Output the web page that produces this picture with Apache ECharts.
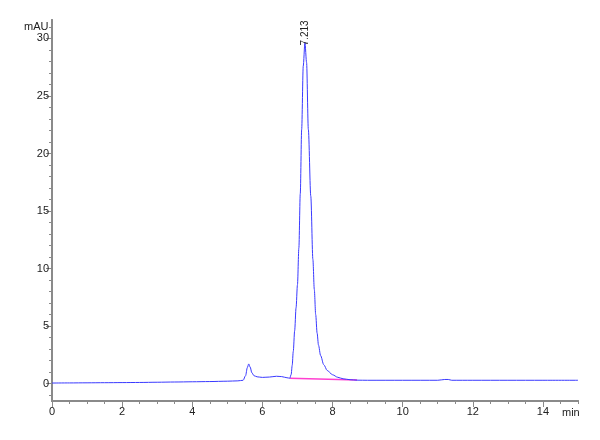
<!DOCTYPE html>
<html>
<head>
<meta charset="utf-8">
<script src="https://cdn.jsdelivr.net/npm/echarts@6/dist/echarts.min.js"></script>
<style>
  html, body { margin: 0; padding: 0; background: #fff; }
  #main { width: 600px; height: 440px; }
</style>
</head>
<body>
<div id="main"></div>
<script>
// chromatogram trace, [time (min), absorbance (mAU)]
const trace = [
  [0, 0.06], [0.5, 0.07], [1, 0.08], [1.5, 0.09], [2, 0.1], [2.5, 0.11],
  [3, 0.13], [3.5, 0.15], [4, 0.17], [4.5, 0.19], [5, 0.22], [5.3, 0.25],
  [5.45, 0.3], [5.52, 0.7], [5.57, 1.4], [5.61, 1.72], [5.65, 1.45], [5.7, 0.95],
  [5.76, 0.7], [5.85, 0.6], [6.0, 0.55], [6.2, 0.58], [6.4, 0.65], [6.55, 0.62],
  [6.7, 0.52], [6.78, 0.48], [6.82, 0.8], [6.85, 1.6], [6.88, 2.8], [6.92, 4.6],
  [6.96, 6.6], [7.0, 8.6], [7.04, 11.8], [7.08, 16.5], [7.12, 22.1], [7.165, 27.6],
  [7.213, 29.65], [7.26, 27.9], [7.31, 22.1], [7.38, 16.3], [7.44, 10.8], [7.48, 8.2],
  [7.52, 6.0], [7.56, 4.4], [7.6, 3.35], [7.66, 2.45], [7.75, 1.65], [7.85, 1.15],
  [8.0, 0.78], [8.15, 0.56], [8.3, 0.43], [8.5, 0.35], [8.7, 0.31], [9, 0.3],
  [10, 0.3], [11, 0.3], [11.2, 0.37], [11.3, 0.37], [11.4, 0.3], [12, 0.3],
  [13, 0.3], [14, 0.3], [15, 0.3]
];
// integration baseline under the main peak
const baseline = [[6.78, 0.48], [8.7, 0.32]];
const peakTime = 7.213;
const peakHeight = 29.65;

const xLabels = [0, 2, 4, 6, 8, 10, 12, 14];
const xMinor = [];
for (let v = 0; v <= 15; v += 0.5) xMinor.push(v);
const yLabels = [0, 5, 10, 15, 20, 25, 30];
const yMinor = [];
for (let v = -1; v <= 31; v += 1) yMinor.push(v);

const font = "'Liberation Sans Narrow', 'Liberation Sans', Arial, sans-serif";
const axisGray = '#8a8a8a';

const chart = echarts.init(document.getElementById('main'));
const grid = { left: 52, right: 22, top: 20, bottom: 39 };

function xAxis(values, len, labels) {
  return {
    type: 'value', min: 0, max: 15, gridIndex: 0, position: 'bottom',
    axisLine: { show: true, onZero: false, lineStyle: { color: axisGray, width: 2 } },
    axisTick: { show: true, length: len, customValues: values, lineStyle: { color: axisGray, width: 1 } },
    axisLabel: labels ? { show: true, customValues: labels, color: '#222', fontSize: 11, fontFamily: font, margin: 5 } : { show: false },
    splitLine: { show: false }
  };
}
function yAxis(values, len, labels) {
  return {
    type: 'value', min: -1.5, max: 31.6, gridIndex: 0, position: 'left',
    axisLine: { show: true, onZero: false, lineStyle: { color: axisGray, width: 2 } },
    axisTick: { show: true, length: len, customValues: values, lineStyle: { color: axisGray, width: 1 } },
    axisLabel: labels ? { show: true, customValues: labels, color: '#222', fontSize: 11, fontFamily: font, margin: 3 } : { show: false },
    splitLine: { show: false }
  };
}

chart.setOption({
  animation: false,
  backgroundColor: '#fff',
  grid: grid,
  xAxis: [xAxis(xLabels, 6, xLabels), xAxis(xMinor, 3, null)],
  yAxis: [yAxis(yLabels, 6, yLabels), yAxis(yMinor, 3, null)],
  graphic: [
    { type: 'text', left: 24, top: 21, style: { text: 'mAU', fontSize: 11, fontFamily: font, fill: '#222' } },
    { type: 'text', left: 562, top: 407, style: { text: 'min', fontSize: 11, fontFamily: font, fill: '#222' } }
  ],
  series: [
    {
      type: 'line',
      data: baseline,
      symbol: 'none',
      lineStyle: { color: '#ff3fd0', width: 1.5 },
      z: 2
    },
    {
      type: 'line',
      data: trace,
      symbol: 'none',
      smooth: 0.3,
      smoothMonotone: 'x',
      lineStyle: { color: '#3a3aff', width: 1 },
      z: 3,
      markPoint: {
        symbol: 'rect',
        symbolSize: [0, 0],
        data: [{ coord: [peakTime, peakHeight] }],
        label: {
          show: true,
          formatter: peakTime.toFixed(3),
          position: 'inside',
          rotate: 90,
          align: 'left',
          verticalAlign: 'middle',
          offset: [-3, 0],
          fontSize: 10,
          fontFamily: font,
          color: '#222'
        }
      }
    }
  ]
});
</script>
</body>
</html>
